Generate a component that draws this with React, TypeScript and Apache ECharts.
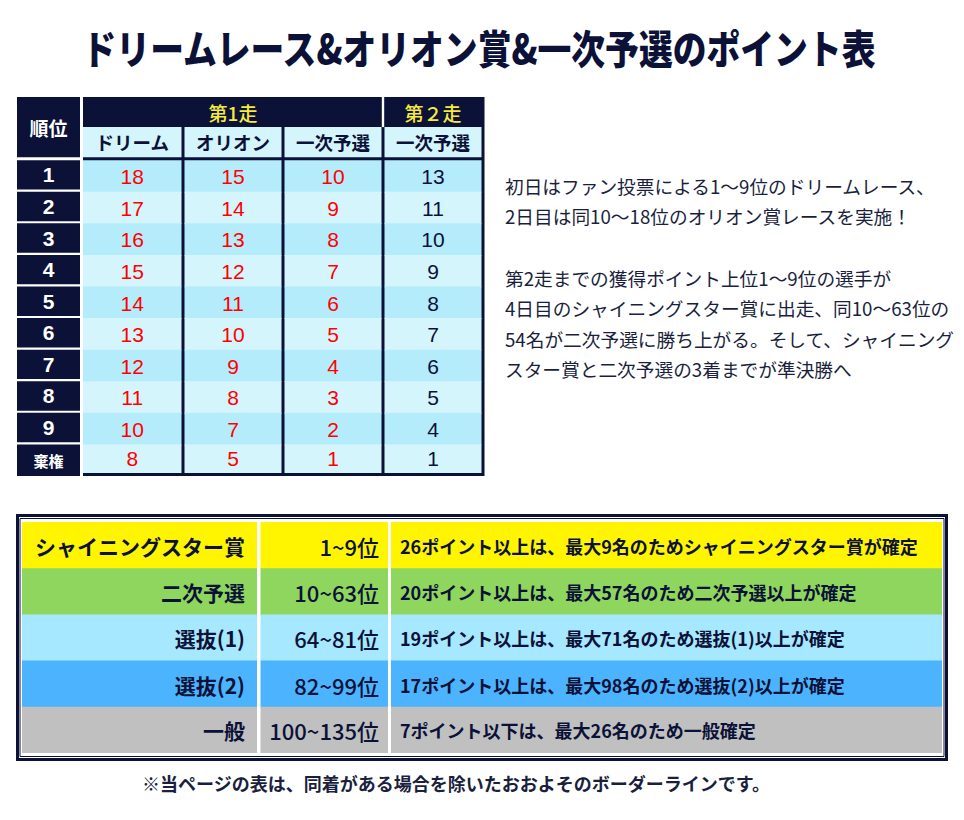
import React, { useEffect, useRef } from 'react';
import * as echarts from 'echarts';

// ---------- data ----------
const TITLE = 'ドリームレース&オリオン賞&一次予選のポイント表';
const RANK_HEADER = '順位';
const RANKS = ['1', '2', '3', '4', '5', '6', '7', '8', '9', '棄権'];
const RUN_GROUPS = ['第1走', '第２走'];
const RACE_NAMES = ['ドリーム', 'オリオン', '一次予選', '一次予選'];
const DREAM_POINTS = [18, 17, 16, 15, 14, 13, 12, 11, 10, 8];
const ORION_POINTS = [15, 14, 13, 12, 11, 10, 9, 8, 7, 5];
const PRELIM1_POINTS = [10, 9, 8, 7, 6, 5, 4, 3, 2, 1];
const PRELIM2_POINTS = [13, 11, 10, 9, 8, 7, 6, 5, 4, 1];
const NOTE_LINES = [
  '初日はファン投票による1〜9位のドリームレース、',
  '2日目は同10〜18位のオリオン賞レースを実施！',
  '',
  '第2走までの獲得ポイント上位1〜9位の選手が',
  '4日目のシャイニングスター賞に出走、同10〜63位の',
  '54名が二次予選に勝ち上がる。そして、シャイニング',
  'スター賞と二次予選の3着までが準決勝へ',
];
const TIERS = ['シャイニングスター賞', '二次予選', '選抜(1)', '選抜(2)', '一般'];
const TIER_RANKS = ['1~9位', '10~63位', '64~81位', '82~99位', '100~135位'];
const TIER_BORDERS = [
  '26ポイント以上は、最大9名のためシャイニングスター賞が確定',
  '20ポイント以上は、最大57名のため二次予選以上が確定',
  '19ポイント以上は、最大71名のため選抜(1)以上が確定',
  '17ポイント以上は、最大98名のため選抜(2)以上が確定',
  '7ポイント以下は、最大26名のため一般確定',
];
const FOOTNOTE = '※当ページの表は、同着がある場合を除いたおおよそのボーダーラインです。';

// ---------- styles / layout ----------
const NAVY = '#0b1137';
const TEXT = '#1a1f3d';
const RED = '#ff0000';
const YELLOW_TXT = '#f6ea3f';
const ROW_DARK = '#b4ecfb';
const ROW_LIGHT = '#d5f5fd';
const TIER_COLORS = ['#fff500', '#8fd65e', '#a6e8ff', '#4cb3fe', '#c0c0c0'];
const JP = '"Noto Sans CJK JP", "Noto Sans", sans-serif';
const NUM = '"Liberation Sans", Arial, "Noto Sans CJK JP", sans-serif';
const BOTTOM_COLS = [
  [0, 235],
  [238.5, 366],
  [369, 920],
];

type Cell = {
  x0: number; x1: number; y0: number; y1: number;
  padL?: number; padR?: number; padT?: number; padB?: number;
  fill?: string; text?: string; color?: string; fontSize?: number;
  fontWeight?: any; fontFamily?: string; align?: 'center' | 'left' | 'right';
  textPad?: number; dy?: number;
};

function buildRankCells(): Cell[] {
  const cells: Cell[] = [];
  cells.push({ x0: 0, x1: 1, y0: -2, y1: 0, padB: 3, fill: NAVY, text: RANK_HEADER, color: '#fff', fontSize: 19, fontWeight: 'bold', fontFamily: JP });
  RANKS.forEach((r, i) => {
    const isNum = /^\d+$/.test(r);
    cells.push({
      x0: 0, x1: 1, y0: i, y1: i + 1, padB: i === RANKS.length - 1 ? 0 : 2.2,
      fill: NAVY, text: r, color: '#fff', fontSize: isNum ? 21 : 15, fontWeight: 'bold',
      fontFamily: isNum ? NUM : JP,
    });
  });
  return cells;
}

function buildPointCells(): Cell[] {
  const cells: Cell[] = [];
  // dark frame
  cells.push({ x0: 0, x1: 4, y0: -2, y1: 10, padR: -1.5, fill: NAVY });
  // group headers
  cells.push({ x0: 0, x1: 3, y0: -2, y1: -1, text: RUN_GROUPS[0], color: YELLOW_TXT, fontSize: 19, fontWeight: 500, fontFamily: JP, dy: -0.5 });
  cells.push({ x0: 3, x1: 4, y0: -2, y1: -1, text: RUN_GROUPS[1], color: YELLOW_TXT, fontSize: 19, fontWeight: 500, fontFamily: JP, dy: -0.5 });
  cells.push({ x0: 3, x1: 3, y0: -2, y1: -1, padL: -1.2, padR: -1.2, padB: 1.5, fill: '#ffffff' });
  const cols = [DREAM_POINTS, ORION_POINTS, PRELIM1_POINTS, PRELIM2_POINTS];
  RACE_NAMES.forEach((name, c) => {
    cells.push({
      x0: c, x1: c + 1, y0: -1, y1: 0, padL: c === 0 ? 0 : 1.5, padR: 1.5, padT: -1.5, padB: 3,
      fill: ROW_LIGHT, text: name, color: NAVY, fontSize: 18.5, fontWeight: 'bold', fontFamily: JP,
    });
  });
  for (let r = 0; r < RANKS.length; r++) {
    cols.forEach((vals, c) => {
      cells.push({
        x0: c, x1: c + 1, y0: r, y1: r + 1, padL: c === 0 ? 0 : 1.5, padR: 1.5,
        padB: r === RANKS.length - 1 ? 3 : -0.8,
        fill: r % 2 === 0 ? ROW_DARK : ROW_LIGHT, text: String(vals[r]),
        color: c < 3 ? RED : NAVY, fontSize: 21, fontWeight: 'normal', fontFamily: NUM,
      });
    });
  }
  return cells;
}

function buildTierCells(): Cell[] {
  const cells: Cell[] = [];
  TIERS.forEach((t, r) => {
    const texts = [t, TIER_RANKS[r], TIER_BORDERS[r]];
    BOTTOM_COLS.forEach(([a, b], c) => {
      cells.push({
        x0: a, x1: b, y0: r, y1: r + 1, padB: r === TIERS.length - 1 ? 0 : -0.8,
        fill: TIER_COLORS[r], text: texts[c], color: NAVY,
        fontSize: c === 0 ? 21 : c === 1 ? 22 : 18,
        fontWeight: c === 1 ? 500 : 'bold', fontFamily: JP,
        align: c === 2 ? 'left' : 'right', textPad: c === 0 ? 12 : c === 1 ? 9 : 9,
      });
    });
  });
  return cells;
}

function makeRender(cells: Cell[]) {
  return (params: any, api: any) => {
    const c = cells[params.dataIndex];
    const a = api.coord([c.x0, c.y0]);
    const b = api.coord([c.x1, c.y1]);
    const pl = c.padL || 0, pr = c.padR || 0, pt = c.padT || 0, pb = c.padB || 0;
    const x = a[0] + pl;
    const y = a[1] + pt;
    const w = b[0] - a[0] - pl - pr;
    const h = b[1] - a[1] - pt - pb;
    const children: any[] = [];
    if (c.fill) {
      children.push({ type: 'rect', shape: { x, y, width: w, height: h }, style: { fill: c.fill } });
    }
    if (c.text) {
      const align = c.align || 'center';
      const tx = align === 'center' ? x + w / 2 : align === 'left' ? x + (c.textPad || 0) : x + w - (c.textPad || 0);
      const ty = (a[1] + b[1]) / 2 + (pt - pb) / 2 + (pb < 0 ? -pb / 2 : 0) + (c.dy || 0);
      children.push({
        type: 'text',
        z2: 10,
        style: {
          text: c.text, x: tx, y: ty, fill: c.color,
          fontSize: c.fontSize, fontWeight: c.fontWeight, fontFamily: c.fontFamily,
          align, verticalAlign: 'middle', textAlign: align, textVerticalAlign: 'middle',
        },
      });
    }
    return { type: 'group', children };
  };
}

function cellSeries(cells: Cell[], idx: number) {
  return {
    type: 'custom',
    xAxisIndex: idx,
    yAxisIndex: idx,
    clip: false,
    silent: true,
    renderItem: makeRender(cells),
    data: cells.map((c) => [(c.x0 + c.x1) / 2, (c.y0 + c.y1) / 2]),
  };
}

export default function App() {
  const ref = useRef<HTMLDivElement>(null);
  useEffect(() => {
    if (!ref.current) return;
    const chart = echarts.init(ref.current, undefined, { renderer: 'svg' });
    const rankCells = buildRankCells();
    const pointCells = buildPointCells();
    const tierCells = buildTierCells();
    const option: any = {
      animation: false,
      backgroundColor: '#ffffff',
      grid: [
        { left: 17, top: 97, width: 63, height: 379 },
        { left: 83, top: 97, width: 400, height: 379 },
        { left: 22, top: 522, width: 920, height: 231 },
      ],
      xAxis: [
        { type: 'value', gridIndex: 0, min: 0, max: 1, show: false },
        { type: 'value', gridIndex: 1, min: 0, max: 4, show: false },
        { type: 'value', gridIndex: 2, min: 0, max: 920, show: false },
      ],
      yAxis: [
        { type: 'value', gridIndex: 0, min: -2, max: 10, inverse: true, show: false },
        { type: 'value', gridIndex: 1, min: -2, max: 10, inverse: true, show: false },
        { type: 'value', gridIndex: 2, min: 0, max: 5, inverse: true, show: false },
      ],
      graphic: [
        {
          type: 'text', x: 479, y: 47, scaleX: 0.845,
          style: {
            text: TITLE, x: 0, y: 0, fill: NAVY, fontSize: 40, fontWeight: 900, fontFamily: JP,
            align: 'center', verticalAlign: 'middle', textAlign: 'center', textVerticalAlign: 'middle',
          },
        },
        {
          type: 'text', x: 505, y: 170,
          style: {
            text: NOTE_LINES.join('\n'), fill: TEXT, fontSize: 18.7, lineHeight: 30.6, fontWeight: 'normal', fontFamily: JP,
            align: 'left', verticalAlign: 'top', textAlign: 'left', textVerticalAlign: 'top',
          },
        },
        {
          type: 'rect', shape: { x: 17.5, y: 515.5, width: 929, height: 244 },
          style: { fill: 'none', stroke: NAVY, lineWidth: 3 },
        },
        {
          type: 'rect', shape: { x: 20, y: 518.5, width: 924, height: 238 },
          style: { fill: 'none', stroke: NAVY, lineWidth: 1 },
        },
        {
          type: 'text', x: 456, y: 783,
          style: {
            text: FOOTNOTE, fill: TEXT, fontSize: 18, fontWeight: 'bold', fontFamily: JP,
            align: 'center', verticalAlign: 'middle', textAlign: 'center', textVerticalAlign: 'middle',
          },
        },
      ],
      series: [cellSeries(rankCells, 0), cellSeries(pointCells, 1), cellSeries(tierCells, 2)],
    };
    chart.setOption(option);
    return () => chart.dispose();
  }, []);
  return (
    <div
      ref={ref}
      style={{ position: 'fixed', left: 0, top: 0, width: 964, height: 820, background: '#fff' }}
    />
  );
}
